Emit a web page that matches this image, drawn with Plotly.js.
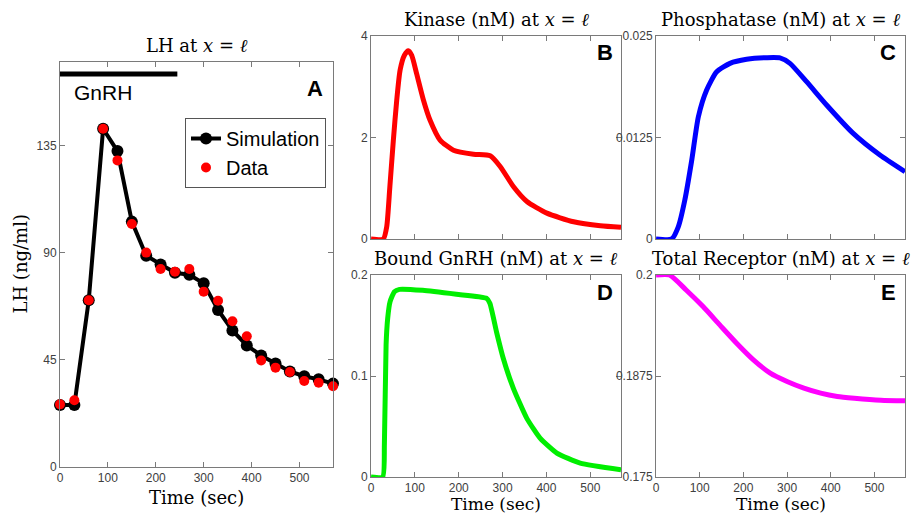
<!DOCTYPE html>
<html>
<head>
<meta charset="utf-8">
<script src="https://cdn.plot.ly/plotly-3.0.1.min.js"></script>
<style>html,body{margin:0;padding:0;background:#fff;}#chart{width:916px;height:514px;}</style>
</head>
<body>
<div id="chart"></div>
<script>
// Panel A: LH at x = l
var lhTime = [0,30,60,90,120,150,180,210,240,270,300,330,360,390,420,450,480,510,540,570];
var lhSimulation = [26,26,70,142,132.6,103,88.7,85,81.5,80.7,77.1,65.9,57.3,51,46.8,43.4,40.1,38.1,36.8,35];
var lhData = [26.3,28,70,142,128.7,102,90,83.1,82,83.1,73.6,69.8,61.2,54.9,44.7,41.7,39.9,36.1,35.4,33.9];
var gnrhTime = [0,245];
var gnrhLevel = [165,165];

// Panel B: Kinase
var kinTime = [0,28,35.8,43,51,58.7,66.4,76.2,85.2,92.8,104,119.5,134.7,157.5,188,233.7,271.7,294.5,325,355.5,401,462,523,570];
var kinVal  = [0,0,0.24,1.03,1.95,2.74,3.33,3.62,3.71,3.62,3.26,2.74,2.34,1.95,1.75,1.67,1.64,1.43,1.03,0.74,0.51,0.34,0.26,0.23];

// Panel C: Phosphatase
var phoTime = [0,35.9,51,66,81.8,97,116,139,169.4,207.5,253,283.8,306.6,344.7,390.5,451.5,512.5,570];
var phoVal  = [0,0,0.0015,0.0048,0.0097,0.01506,0.01835,0.0206,0.02163,0.02213,0.02233,0.0223,0.02163,0.01937,0.0165,0.0130,0.01034,0.00829];

// Panel D: Bound GnRH
var bndTime = [0,26.7,30.5,34.4,38,43.5,53.4,65,118,194.7,263,271,286,301.5,324.4,355,385.5,423.7,477,570];
var bndVal  = [0,0,0.032,0.131,0.157,0.1736,0.1835,0.1858,0.1848,0.1809,0.177,0.172,0.144,0.1176,0.088,0.0583,0.0385,0.0237,0.0138,0.0072];

// Panel E: Total Receptor
var recTime = [0,30.8,69,107.7,146,184.6,223,261.5,300,338.5,377,415,454,515,570];
var recVal  = [0.2,0.2,0.19815,0.19609,0.19382,0.19156,0.1895,0.18785,0.18682,0.186,0.18538,0.18497,0.18476,0.18451,0.18443];

var timeTicks = [0,100,200,300,400,500];
var lhTicks = [0,45,90,135];
var kinTicks = [0,2,4];
var phoTicks = [0,0.0125,0.025];
var bndTicks = [0,0.1,0.2];
var recTicks = [0.175,0.1875,0.2];
var recTickText = ['0.175','0.1875','0.2'];

var W = 916, H = 514;
function px(x){return x/W;}
function py(y){return 1 - y/H;}

var serif = 'DejaVu Serif, Liberation Serif, serif';
var sans = 'Liberation Sans, Arial, sans-serif';
var titleFont = {family:serif, size:18, color:'#000'};
var lowTitleFont = {family:serif, size:17, color:'#000'};

function ax(extra){
  var base = {showline:true, mirror:'ticks', linecolor:'#7a7a7a', linewidth:1,
    ticks:'inside', ticklen:5, tickcolor:'#7a7a7a', showgrid:false, zeroline:false,
    automargin:false, tickfont:{family:sans, size:12, color:'#404040'}};
  for (var k in extra) base[k] = extra[k];
  return base;
}

var traces = [
  {x:gnrhTime, y:gnrhLevel, xaxis:'x', yaxis:'y', mode:'lines', line:{color:'#000', width:5}, showlegend:false, hoverinfo:'skip'},
  {x:lhTime, y:lhSimulation, xaxis:'x', yaxis:'y', mode:'lines+markers', name:'Simulation', cliponaxis:false,
    line:{color:'#000', width:4}, marker:{color:'#000', size:12, symbol:'circle'}},
  {x:lhTime, y:lhData, xaxis:'x', yaxis:'y', mode:'markers', name:'Data', cliponaxis:false,
    marker:{color:'#ff0000', size:10, symbol:'circle'}},
  {x:kinTime, y:kinVal, xaxis:'x2', yaxis:'y2', mode:'lines', line:{color:'#ff0000', width:5, shape:'spline', smoothing:0.6}, showlegend:false},
  {x:phoTime, y:phoVal, xaxis:'x3', yaxis:'y3', mode:'lines', line:{color:'#0000ff', width:5, shape:'spline', smoothing:0.6}, showlegend:false},
  {x:bndTime, y:bndVal, xaxis:'x4', yaxis:'y4', mode:'lines', line:{color:'#00ee00', width:5, shape:'spline', smoothing:0.5}, showlegend:false},
  {x:recTime, y:recVal, xaxis:'x5', yaxis:'y5', mode:'lines', line:{color:'#ff00ff', width:5, shape:'spline', smoothing:0.6}, showlegend:false}
];

var dxA = [px(60), px(333)], dyA = [py(467), py(62)];
var dxL = [px(371), px(621)], dxR = [px(656), px(905)];
var dyT = [py(239), py(36)], dyB = [py(477), py(275)];

function note(text, x, y, font, extra){
  var a = {text:text, xref:'paper', yref:'paper', x:px(x), y:py(y), xanchor:'center', yanchor:'middle', showarrow:false, font:font};
  if (extra) for (var k in extra) a[k] = extra[k];
  return a;
}
var labelFont = {family:sans, size:22, color:'#000'};

var layout = {
  width:W, height:H, margin:{l:0,r:0,t:0,b:0}, paper_bgcolor:'#fff', plot_bgcolor:'#fff',
  showlegend:true,
  legend:{x:px(185), y:py(118), xanchor:'left', yanchor:'top', bgcolor:'#fff', bordercolor:'#555', borderwidth:1,
    font:{family:sans, size:20, color:'#000'}, tracegroupgap:0, itemwidth:30},
  xaxis: ax({domain:dxA, anchor:'y', range:[0,570], tickvals:timeTicks}),
  yaxis: ax({domain:dyA, anchor:'x', range:[0,170], tickvals:lhTicks}),
  xaxis2: ax({domain:dxL, anchor:'y2', range:[0,570], tickvals:timeTicks, showticklabels:false}),
  yaxis2: ax({domain:dyT, anchor:'x2', range:[0,4], tickvals:kinTicks}),
  xaxis3: ax({domain:dxR, anchor:'y3', range:[0,570], tickvals:timeTicks, showticklabels:false}),
  yaxis3: ax({domain:dyT, anchor:'x3', range:[0,0.025], tickvals:phoTicks, ticktext:['0','0.0125','0.025']}),
  xaxis4: ax({domain:dxL, anchor:'y4', range:[0,570], tickvals:timeTicks}),
  yaxis4: ax({domain:dyB, anchor:'x4', range:[0,0.2], tickvals:bndTicks, ticktext:['0','0.1','0.2']}),
  xaxis5: ax({domain:dxR, anchor:'y5', range:[0,570], tickvals:timeTicks}),
  yaxis5: ax({domain:dyB, anchor:'x5', range:[0.175,0.2], tickvals:recTicks, ticktext:recTickText}),
  annotations: [
    note('LH at <i>x</i> = <i>ℓ</i>', 196.5, 45, titleFont),
    note('Kinase (nM) at <i>x</i> = <i>ℓ</i>', 496, 20, titleFont),
    note('Phosphatase (nM) at <i>x</i> = <i>ℓ</i>', 780.5, 20, titleFont),
    note('Bound GnRH (nM) at <i>x</i> = <i>ℓ</i>', 496, 258, titleFont),
    note('Total Receptor (nM) at <i>x</i> = <i>ℓ</i>', 780.5, 258, titleFont),
    note('Time (sec)', 196.5, 497, titleFont),
    note('Time (sec)', 496, 503.5, lowTitleFont),
    note('Time (sec)', 780.5, 503.5, lowTitleFont),
    note('LH (ng/ml)', 20, 264.5, titleFont, {textangle:-90}),
    note('GnRH', 72, 92, {family:sans, size:21, color:'#000'}, {xanchor:'left'}),
    note('<b>A</b>', 325, 88, labelFont, {xanchor:'right'}),
    note('<b>B</b>', 615, 53, labelFont, {xanchor:'right'}),
    note('<b>C</b>', 898, 53, labelFont, {xanchor:'right'}),
    note('<b>D</b>', 615, 292, labelFont, {xanchor:'right'}),
    note('<b>E</b>', 898, 292, labelFont, {xanchor:'right'})
  ]
};

Plotly.newPlot('chart', traces, layout, {staticPlot:true, displayModeBar:false});
</script>
</body>
</html>
